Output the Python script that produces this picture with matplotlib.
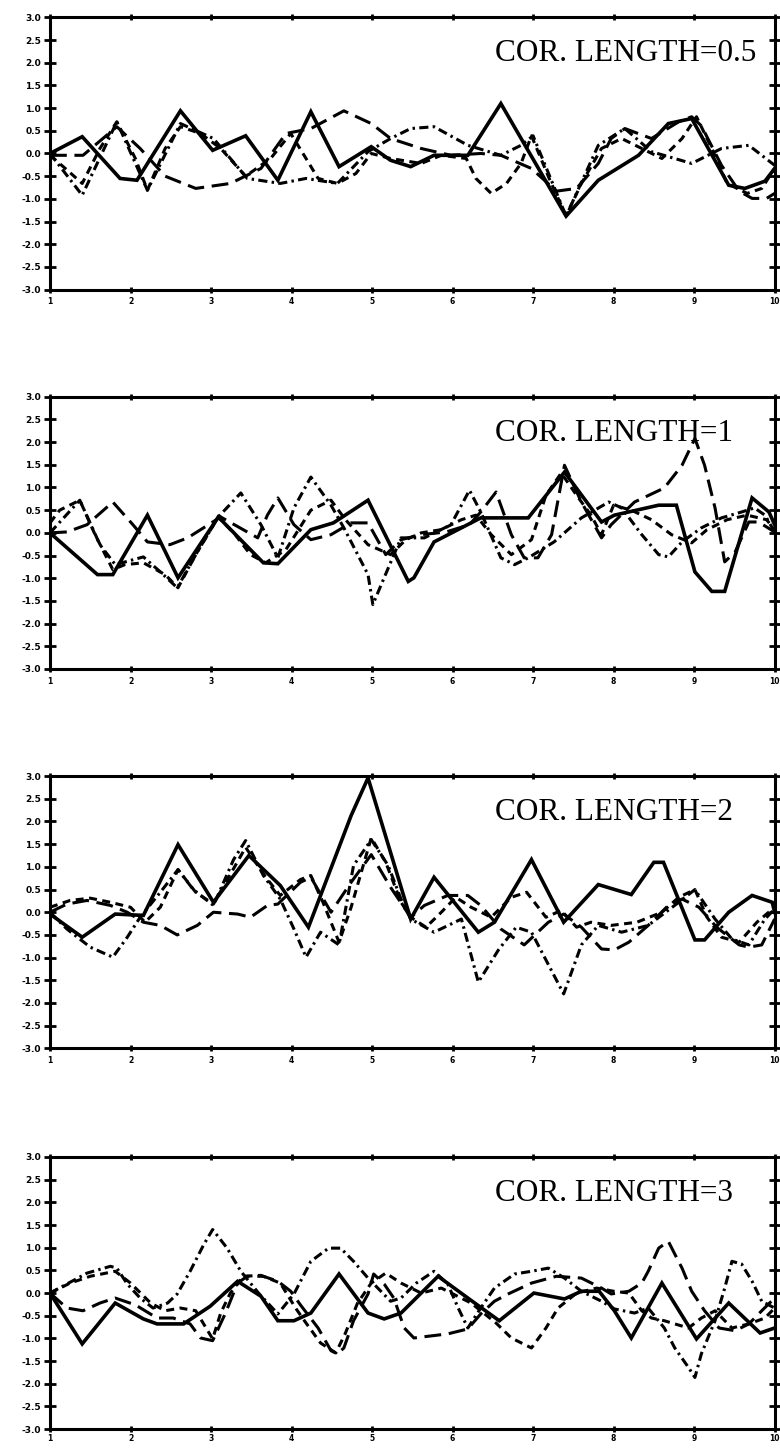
# Four stacked panels of sample realisations for different correlation lengths
import matplotlib
matplotlib.use("Agg")
import matplotlib.pyplot as plt

ytick_vals = [-3.0, -2.5, -2.0, -1.5, -1.0, -0.5, 0.0, 0.5, 1.0, 1.5, 2.0, 2.5, 3.0]
xtick_vals = [1, 2, 3, 4, 5, 6, 7, 8, 9, 10]
titles = ["COR. LENGTH=0.5", "COR. LENGTH=1", "COR. LENGTH=2", "COR. LENGTH=3"]

# ---- panel 1 (cor. length 0.5)
x1_solid = [1.00, 1.40, 1.87, 2.08, 2.62, 3.02, 3.43, 3.83, 4.24, 4.59, 4.99, 5.23, 5.48, 5.77,
            6.19, 6.60, 7.41, 7.81, 8.31, 8.68, 8.97, 9.43, 9.63, 9.88, 10.0]
y1_solid = [0.00, 0.37, -0.55, -0.59, 0.94, 0.07, 0.39, -0.59, 0.92, -0.29, 0.15, -0.15, -0.29, -0.04,
            -0.04, 1.10, -1.38, -0.59, -0.04, 0.66, 0.77, -0.70, -0.77, -0.61, -0.33]
x1_dashdot = [1.00, 1.40, 1.83, 2.21, 2.62, 3.03, 3.45, 3.86, 4.18, 4.57, 4.95, 5.23, 5.48, 5.77,
              6.19, 6.60, 6.85, 7.00, 7.41, 7.81, 8.14, 8.47, 8.97, 9.34, 9.68, 10.0]
y1_dashdot = [0.00, -0.92, 0.70, -0.81, 0.66, 0.33, -0.55, -0.66, -0.55, -0.66, 0.04, 0.33, 0.55, 0.59,
              0.18, -0.04, 0.18, 0.39, -1.38, 0.18, 0.55, 0.04, -0.22, 0.11, 0.18, -0.26]
x1_long = [1.00, 1.41, 1.83, 2.12, 2.43, 2.81, 3.24, 3.62, 3.93, 4.24, 4.65, 4.99, 5.23, 5.61, 5.98,
           6.35, 6.60, 6.98, 7.29, 7.54, 7.81, 7.97, 8.14, 8.47, 8.81, 8.97, 9.09, 9.34, 9.56, 9.72,
           9.90, 10.0]
y1_long = [-0.04, -0.04, 0.59, 0.11, -0.50, -0.77, -0.66, -0.33, 0.44, 0.55, 0.94, 0.66, 0.33, 0.11,
           -0.04, 0.00, -0.04, -0.33, -0.83, -0.77, -0.22, 0.33, 0.55, 0.33, 0.70, 0.81, 0.61, -0.26,
           -0.83, -0.99, -0.99, -0.88]
x1_short = [1.00, 1.19, 1.40, 1.62, 1.83, 2.06, 2.21, 2.43, 2.62, 2.87, 3.12, 3.43, 3.74, 3.99, 4.18,
            4.33, 4.57, 4.80, 4.99, 5.23, 5.61, 5.86, 6.17, 6.29, 6.48, 6.67, 6.85, 6.98, 7.20, 7.41,
            7.60, 7.85, 8.10, 8.35, 8.60, 8.85, 9.03, 9.22, 9.41, 9.66, 9.84, 10.0]
y1_short = [-0.04, -0.33, -0.66, 0.11, 0.70, -0.11, -0.81, 0.11, 0.59, 0.44, 0.11, -0.50, -0.11, 0.44,
            -0.11, -0.55, -0.66, -0.44, 0.00, -0.11, -0.22, -0.04, -0.11, -0.55, -0.88, -0.66, -0.22,
            0.39, -0.55, -1.38, -0.66, 0.11, 0.33, 0.11, -0.11, 0.33, 0.81, 0.11, -0.66, -0.88, -0.77,
            -0.33]

# ---- panel 2 (cor. length 1)
x2_solid = [1.00, 1.59, 1.78, 2.21, 2.59, 3.09, 3.65, 3.83, 4.24, 4.52, 4.95, 5.45, 5.52, 5.77, 6.35,
            6.94, 7.39, 7.85, 8.01, 8.56, 8.78, 9.01, 9.22, 9.38, 9.72, 9.93, 10.0]
y2_solid = [0.00, -0.92, -0.92, 0.39, -0.99, 0.35, -0.66, -0.68, 0.07, 0.22, 0.72, -1.07, -0.99, -0.20,
            0.33, 0.33, 1.34, 0.24, 0.39, 0.61, 0.61, -0.86, -1.29, -1.29, 0.77, 0.46, 0.18]
x2_dashdot = [1.00, 1.37, 1.62, 1.81, 2.16, 2.37, 2.58, 2.83, 3.09, 3.37, 3.62, 3.83, 4.03, 4.24, 4.49,
              4.65, 4.95, 5.01, 5.15, 5.36, 5.65, 5.98, 6.21, 6.35, 6.60, 6.77, 6.94, 7.26, 7.60, 7.94,
              8.10, 8.35, 8.56, 8.68, 8.85, 9.09, 9.34, 9.59, 9.75, 9.88, 10.0]
y2_dashdot = [0.00, 0.72, -0.26, -0.70, -0.53, -0.86, -1.21, -0.42, 0.35, 0.88, 0.18, -0.55, 0.55, 1.23,
              0.61, 0.11, -0.92, -1.58, -0.99, -0.11, -0.11, 0.18, 0.94, 0.46, -0.55, -0.70, -0.55,
              -0.20, 0.33, 0.68, 0.55, -0.04, -0.48, -0.53, -0.20, 0.11, 0.33, 0.46, 0.55, 0.39, 0.02]
x2_long = [1.00, 1.21, 1.46, 1.78, 2.03, 2.21, 2.49, 2.71, 3.12, 3.58, 3.70, 3.83, 4.03, 4.24, 4.49,
           4.74, 4.95, 5.17, 5.36, 5.61, 5.92, 6.21, 6.35, 6.54, 6.73, 6.89, 7.06, 7.23, 7.39, 7.60,
           7.85, 7.97, 8.26, 8.63, 8.85, 9.01, 9.13, 9.26, 9.38, 9.51, 9.68, 9.80, 10.0]
y2_long = [0.00, 0.02, 0.18, 0.68, 0.18, -0.20, -0.26, -0.11, 0.35, -0.11, 0.39, 0.77, 0.18, -0.15,
           -0.04, 0.22, 0.22, -0.48, -0.15, -0.04, 0.02, 0.18, 0.46, 0.90, -0.04, -0.55, -0.55, -0.04,
           1.49, 0.68, -0.11, 0.18, 0.68, 0.99, 1.49, 2.08, 1.49, 0.55, -0.64, -0.42, 0.24, 0.24, 0.02]
x2_short = [1.00, 1.12, 1.37, 1.56, 1.78, 1.93, 2.16, 2.43, 2.59, 2.81, 3.09, 3.30, 3.49, 3.68, 3.93,
            4.24, 4.49, 4.67, 4.95, 5.23, 5.42, 5.61, 5.86, 6.11, 6.29, 6.48, 6.73, 6.98, 7.16, 7.35,
            7.54, 7.72, 7.85, 8.00, 8.22, 8.47, 8.72, 8.97, 9.16, 9.41, 9.66, 9.90, 10.0]
y2_short = [0.22, 0.50, 0.72, -0.04, -0.81, -0.70, -0.66, -0.92, -1.21, -0.48, 0.35, -0.04, -0.48,
            -0.66, -0.37, 0.50, 0.72, 0.29, -0.26, -0.48, -0.15, 0.00, 0.07, 0.29, 0.39, -0.04, -0.48,
            -0.15, 0.83, 1.32, 0.83, 0.39, -0.04, 0.61, 0.50, 0.29, -0.04, -0.22, 0.07, 0.29, 0.39,
            0.29, 0.07]

# ---- panel 3 (cor. length 2)
x3_solid = [1.00, 1.40, 1.81, 2.16, 2.59, 3.03, 3.47, 3.86, 4.21, 4.74, 4.95, 5.48, 5.77, 6.32, 6.52,
            6.98, 7.38, 7.81, 8.22, 8.50, 8.62, 9.01, 9.13, 9.43, 9.72, 9.97, 10.0]
y3_solid = [-0.04, -0.55, -0.04, -0.07, 1.49, 0.22, 1.25, 0.59, -0.33, 2.13, 2.96, -0.15, 0.77, -0.44,
            -0.22, 1.16, -0.22, 0.61, 0.39, 1.10, 1.10, -0.61, -0.61, 0.00, 0.37, 0.22, 0.00]
x3_dashdot = [1.00, 1.21, 1.50, 1.78, 1.96, 2.12, 2.37, 2.59, 2.78, 3.03, 3.28, 3.43, 3.65, 3.86, 4.03,
              4.18, 4.36, 4.59, 4.77, 4.99, 5.20, 5.36, 5.48, 5.77, 6.11, 6.32, 6.57, 6.79, 6.98, 7.38,
              7.60, 7.81, 8.10, 8.43, 8.81, 9.01, 9.26, 9.47, 9.68, 9.88, 10.0]
y3_dashdot = [0.00, -0.37, -0.77, -0.99, -0.55, -0.11, 0.44, 0.94, 0.50, 0.15, 1.16, 1.58, 0.81, 0.29,
              -0.37, -0.99, -0.44, -0.72, 1.03, 1.60, 1.03, 0.29, -0.15, -0.44, -0.15, -1.54, -0.83,
              -0.33, -0.44, -1.80, -0.72, -0.29, -0.44, -0.29, 0.22, 0.50, -0.15, -0.59, -0.72, -0.15,
              0.07]
x3_long = [1.00, 1.21, 1.46, 1.75, 1.96, 2.16, 2.37, 2.58, 2.83, 3.03, 3.33, 3.49, 3.70, 3.83, 4.11,
           4.24, 4.49, 4.74, 4.99, 5.23, 5.48, 5.65, 5.94, 6.19, 6.35, 6.60, 6.89, 7.19, 7.38, 7.60,
           7.85, 8.01, 8.19, 8.43, 8.68, 8.85, 9.06, 9.28, 9.56, 9.68, 9.84, 10.0]
y3_long = [0.00, 0.18, 0.26, 0.15, 0.00, -0.22, -0.29, -0.50, -0.29, 0.00, -0.04, -0.11, 0.15, 0.18,
           0.66, 0.77, 0.00, 0.66, 1.27, 0.55, -0.11, 0.15, 0.37, 0.37, 0.15, -0.37, -0.72, -0.22,
           -0.04, -0.33, -0.81, -0.83, -0.66, -0.29, 0.15, 0.29, 0.11, -0.33, -0.72, -0.77, -0.72, -0.15]
x3_short = [1.00, 1.25, 1.50, 1.75, 2.00, 2.18, 2.37, 2.59, 2.81, 3.03, 3.43, 3.68, 3.86, 4.11, 4.24,
            4.39, 4.59, 4.74, 4.99, 5.17, 5.36, 5.48, 5.67, 5.86, 6.04, 6.23, 6.48, 6.73, 6.92, 7.16,
            7.35, 7.54, 7.72, 7.97, 8.29, 8.60, 8.81, 9.01, 9.16, 9.34, 9.56, 9.78, 10.0]
y3_short = [0.11, 0.26, 0.31, 0.22, 0.11, -0.22, 0.11, 0.94, 0.44, 0.18, 1.43, 0.77, 0.37, 0.72, 0.81,
            0.22, -0.66, 0.11, 1.64, 1.10, 0.22, -0.11, -0.33, 0.00, 0.33, 0.11, -0.11, 0.33, 0.44,
            -0.11, 0.04, -0.33, -0.22, -0.29, -0.22, 0.00, 0.33, 0.50, -0.11, -0.55, -0.66, -0.22, 0.11]

# ---- panel 4 (cor. length 3)
x4_solid = [1.00, 1.40, 1.81, 2.16, 2.33, 2.66, 2.99, 3.33, 3.62, 3.83, 4.03, 4.24, 4.59, 4.95, 5.15,
            5.36, 5.82, 6.19, 6.58, 7.01, 7.39, 7.60, 7.82, 8.01, 8.22, 8.60, 9.03, 9.43, 9.82, 10.0]
y4_solid = [0.00, -1.12, -0.22, -0.57, -0.68, -0.68, -0.29, 0.26, -0.07, -0.61, -0.61, -0.44, 0.42,
            -0.44, -0.57, -0.44, 0.37, -0.11, -0.61, 0.00, -0.13, 0.04, 0.04, -0.39, -0.99, 0.22,
            -1.01, -0.22, -0.88, -0.77]
x4_dashdot = [1.00, 1.21, 1.46, 1.75, 1.83, 1.96, 2.12, 2.28, 2.46, 2.58, 2.74, 2.91, 3.02, 3.20, 3.37,
              3.59, 3.83, 4.03, 4.24, 4.46, 4.61, 4.77, 4.95, 5.11, 5.23, 5.36, 5.55, 5.77, 5.94, 6.07,
              6.19, 6.35, 6.52, 6.77, 6.98, 7.19, 7.39, 7.60, 7.85, 8.01, 8.26, 8.43, 8.63, 8.76, 8.93,
              9.01, 9.09, 9.26, 9.38, 9.47, 9.59, 9.72, 9.84, 10.0]
y4_dashdot = [0.00, 0.20, 0.44, 0.59, 0.55, 0.20, -0.11, -0.33, -0.22, -0.02, 0.48, 1.07, 1.40, 0.99,
              0.48, 0.00, -0.46, -0.02, 0.70, 0.99, 0.99, 0.70, 0.33, 0.04, -0.18, -0.11, 0.22, 0.48,
              0.20, -0.33, -0.77, -0.33, 0.11, 0.42, 0.48, 0.55, 0.33, 0.04, -0.18, -0.35, -0.44, -0.33,
              -0.77, -1.21, -1.64, -1.86, -1.34, -0.61, 0.11, 0.70, 0.64, 0.26, -0.18, -0.33]
x4_long = [1.00, 1.21, 1.41, 1.62, 1.81, 2.06, 2.33, 2.53, 2.74, 2.87, 3.02, 3.18, 3.33, 3.45, 3.65,
           3.83, 3.99, 4.11, 4.33, 4.49, 4.57, 4.65, 4.77, 4.95, 5.02, 5.15, 5.27, 5.40, 5.52, 5.94,
           6.19, 6.35, 6.52, 6.69, 6.98, 7.29, 7.60, 7.85, 7.97, 8.19, 8.35, 8.43, 8.56, 8.68, 8.76,
           8.85, 8.97, 9.13, 9.31, 9.51, 9.68, 9.84, 10.0]
y4_long = [0.00, -0.33, -0.39, -0.22, -0.11, -0.26, -0.55, -0.55, -0.68, -0.99, -1.05, -0.44, 0.22,
           0.37, 0.37, 0.26, 0.04, -0.26, -0.77, -1.27, -1.34, -1.21, -0.61, -0.02, 0.42, 0.20, -0.11,
           -0.77, -0.99, -0.90, -0.79, -0.46, -0.18, -0.02, 0.22, 0.37, 0.33, 0.11, -0.02, 0.04, 0.22,
           0.48, 0.99, 1.14, 0.86, 0.55, 0.04, -0.39, -0.77, -0.83, -0.68, -0.39, -0.11]
x4_short = [1.00, 1.25, 1.50, 1.81, 2.00, 2.25, 2.43, 2.62, 2.81, 3.02, 3.12, 3.24, 3.40, 3.62, 3.86,
            4.05, 4.18, 4.36, 4.55, 4.67, 4.82, 4.99, 5.17, 5.36, 5.61, 5.86, 6.23, 6.54, 6.73, 6.98,
            7.16, 7.31, 7.54, 7.79, 8.00, 8.19, 8.35, 8.47, 8.63, 8.93, 9.09, 9.26, 9.47, 9.68, 9.88,
            10.0]
y4_short = [0.00, 0.22, 0.37, 0.48, 0.22, -0.22, -0.39, -0.33, -0.39, -1.01, -0.44, 0.00, 0.37, 0.39,
            0.22, -0.33, -0.66, -1.10, -1.32, -0.88, -0.22, 0.22, 0.44, 0.22, 0.00, 0.11, -0.22, -0.66,
            -0.99, -1.21, -0.77, -0.33, 0.00, 0.11, 0.04, 0.00, -0.39, -0.55, -0.61, -0.77, -0.55,
            -0.39, -0.77, -0.68, -0.55, -0.33]

panels = [
    (x1_solid, y1_solid, x1_dashdot, y1_dashdot, x1_long, y1_long, x1_short, y1_short),
    (x2_solid, y2_solid, x2_dashdot, y2_dashdot, x2_long, y2_long, x2_short, y2_short),
    (x3_solid, y3_solid, x3_dashdot, y3_dashdot, x3_long, y3_long, x3_short, y3_short),
    (x4_solid, y4_solid, x4_dashdot, y4_dashdot, x4_long, y4_long, x4_short, y4_short),
]

fig = plt.figure(figsize=(7.8, 14.48), dpi=100)
bottoms = [0.800, 0.538, 0.276, 0.013]

for i, p in enumerate(panels):
    ax = fig.add_axes([0.0641, bottoms[i], 0.929, 0.188])
    xs, ys, xd, yd, xl, yl, xsh, ysh = p
    ax.plot(xl, yl, color="black", lw=2.2, linestyle=(0, (5.5, 2.5)))
    ax.plot(xsh, ysh, color="black", lw=2.2, linestyle=(0, (2.6, 1.8)))
    ax.plot(xd, yd, color="black", lw=2.2, linestyle=(0, (3.0, 1.4, 0.8, 1.4)))
    ax.plot(xs, ys, color="black", lw=2.6, solid_joinstyle="miter")

    ax.set_xlim(1, 10)
    ax.set_ylim(-3, 3)
    ax.set_xticks(xtick_vals)
    ax.set_yticks(ytick_vals)
    ax.set_xticklabels([str(v) for v in xtick_vals], fontsize=5.5, fontweight="bold")
    ax.set_yticklabels(["%.1f" % v for v in ytick_vals], fontsize=6.5, fontweight="bold")
    ax.tick_params(axis="y", direction="inout", length=9, width=2, left=True, right=True, pad=2)
    ax.tick_params(axis="x", direction="inout", length=5, width=2, top=True, bottom=True,
                   pad=1 if i == 3 else 3)
    for s in ax.spines.values():
        s.set_linewidth(2.2)

    ax.text(0.614, 0.838, titles[i], transform=ax.transAxes, fontsize=22.5,
            family="Liberation Serif", ha="left", va="baseline")

fig.savefig("out.png", dpi=100)
